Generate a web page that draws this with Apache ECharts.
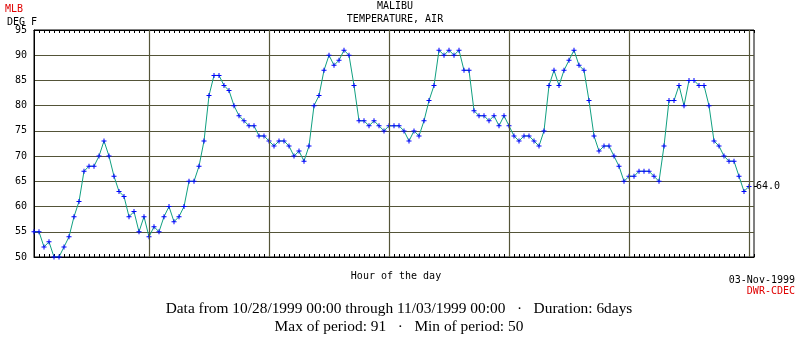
<!DOCTYPE html>
<html>
<head>
<meta charset="utf-8">
<script src="https://cdn.jsdelivr.net/npm/echarts@6/dist/echarts.min.js"></script>
<style>
html,body{margin:0;padding:0;background:#fff;}
#c{width:803px;height:342px;}
</style>
</head>
<body>
<div id="c"></div>
<script>
// Hour offsets from 10/28/1999 00:00 (one reading per hour)
const startHour = 1;
// Air temperature readings, deg F
const temps = [
  55,55,52,53,50,50,52,54,58,61,67,68,68,70,73,70,66,63,62,58,59,55,58,54,
  56,55,58,60,57,58,60,65,65,68,73,82,86,86,84,83,80,78,77,76,76,74,74,73,
  72,73,73,72,70,71,69,72,80,82,87,90,88,89,91,90,84,77,77,76,77,76,75,76,
  76,76,75,73,75,74,77,81,84,91,90,91,90,91,87,87,79,78,78,77,78,76,78,76,
  74,73,74,74,73,72,75,84,87,84,87,89,91,88,87,81,74,71,72,72,70,68,65,66,
  66,67,67,67,66,65,72,81,81,84,80,85,85,84,84,80,73,72,70,69,69,66,63,64
];
// Day boundaries (hours)
const dayLines = [24, 48, 72, 96, 120, 144];
const yTicks = [50, 55, 60, 65, 70, 75, 80, 85, 90, 95];

const seriesData = temps.map((v, i) => [startHour + i, v]);
const lastVal = temps[temps.length - 1];

const mono = 'DejaVu Sans Mono';
const gridColor = '#545438';

const chart = echarts.init(document.getElementById('c'), null, {renderer: 'canvas'});
chart.setOption({
  animation: false,
  backgroundColor: '#fff',
  grid: {left: 34, top: 30, width: 720, height: 227, show: true, borderColor: '#000', borderWidth: 1, backgroundColor: 'transparent'},
  xAxis: [
    {type: 'value', min: 1, max: 145, interval: 1, position: 'bottom',
     axisLine: {show: true, lineStyle: {color: '#000', width: 1}},
     axisTick: {show: true, inside: true, length: 3, lineStyle: {color: '#000'}},
     axisLabel: {show: false}, splitLine: {show: false}},
    {type: 'value', min: 1, max: 145, interval: 1, position: 'top',
     axisLine: {show: true, lineStyle: {color: '#000', width: 1}},
     axisTick: {show: true, inside: true, length: 3, lineStyle: {color: '#000'}},
     axisLabel: {show: false}, splitLine: {show: false}}
  ],
  yAxis: [
    {type: 'value', min: yTicks[0], max: yTicks[yTicks.length - 1], interval: 5,
     axisLine: {show: true, lineStyle: {color: '#000'}},
     axisTick: {show: false},
     axisLabel: {color: '#000', fontFamily: mono, fontSize: 10, margin: 7},
     splitLine: {show: true, lineStyle: {color: gridColor, width: 1.2}}},
    {type: 'value', min: yTicks[0], max: yTicks[yTicks.length - 1], position: 'right',
     axisLine: {show: false},
     axisTick: {show: true, length: 3, customValues: [lastVal], lineStyle: {color: '#000'}},
     axisLabel: {show: true, customValues: [lastVal], formatter: v => Number(v).toFixed(1), color: '#000', fontFamily: mono, fontSize: 10, margin: 2},
     splitLine: {show: false}}
  ],
  series: [
    {type: 'line', data: [], z: 1, silent: true,
     markLine: {silent: true, symbol: 'none', label: {show: false},
       lineStyle: {color: gridColor, type: 'solid', width: 1.2},
       data: dayLines.map(d => ({xAxis: d}))}},
    {type: 'line', data: seriesData, z: 3,
     showAllSymbol: true,
     symbol: 'path://M2 0H3V2H5V3H3V5H2V3H0V2H2Z', symbolSize: 5,
     itemStyle: {color: '#0000ff', borderWidth: 0},
     lineStyle: {color: '#10a080', width: 1}}
  ],
  graphic: [
    {type: 'text', left: 5, top: 4, style: {text: 'MLB', fill: '#e00000', font: '10px ' + mono}},
    {type: 'text', left: 7, top: 17, style: {text: 'DEG F', fill: '#000', font: '10px ' + mono}},
    {type: 'text', x: 395, y: 6, style: {text: 'MALIBU', fill: '#000', font: '10px ' + mono, align: 'center', verticalAlign: 'middle'}},
    {type: 'text', x: 395, y: 19, style: {text: 'TEMPERATURE, AIR', fill: '#000', font: '10px ' + mono, align: 'center', verticalAlign: 'middle'}},
    {type: 'text', x: 396, y: 276, style: {text: 'Hour of the day', fill: '#000', font: '10px ' + mono, align: 'center', verticalAlign: 'middle'}},
    {type: 'text', x: 795, y: 280, style: {text: '03-Nov-1999', fill: '#000', font: '10px ' + mono, align: 'right', verticalAlign: 'middle'}},
    {type: 'text', x: 795, y: 291, style: {text: 'DWR-CDEC', fill: '#e00000', font: '10px ' + mono, align: 'right', verticalAlign: 'middle'}},
    {type: 'text', x: 399, y: 309, style: {text: 'Data from 10/28/1999 00:00 through 11/03/1999 00:00   \u00b7   Duration: 6days', fill: '#000', font: '15.4px "Liberation Serif"', align: 'center', verticalAlign: 'middle'}},
    {type: 'text', x: 399, y: 327, style: {text: 'Max of period: 91   \u00b7   Min of period: 50', fill: '#000', font: '15.4px "Liberation Serif"', align: 'center', verticalAlign: 'middle'}}
  ]
});
</script>
</body>
</html>
